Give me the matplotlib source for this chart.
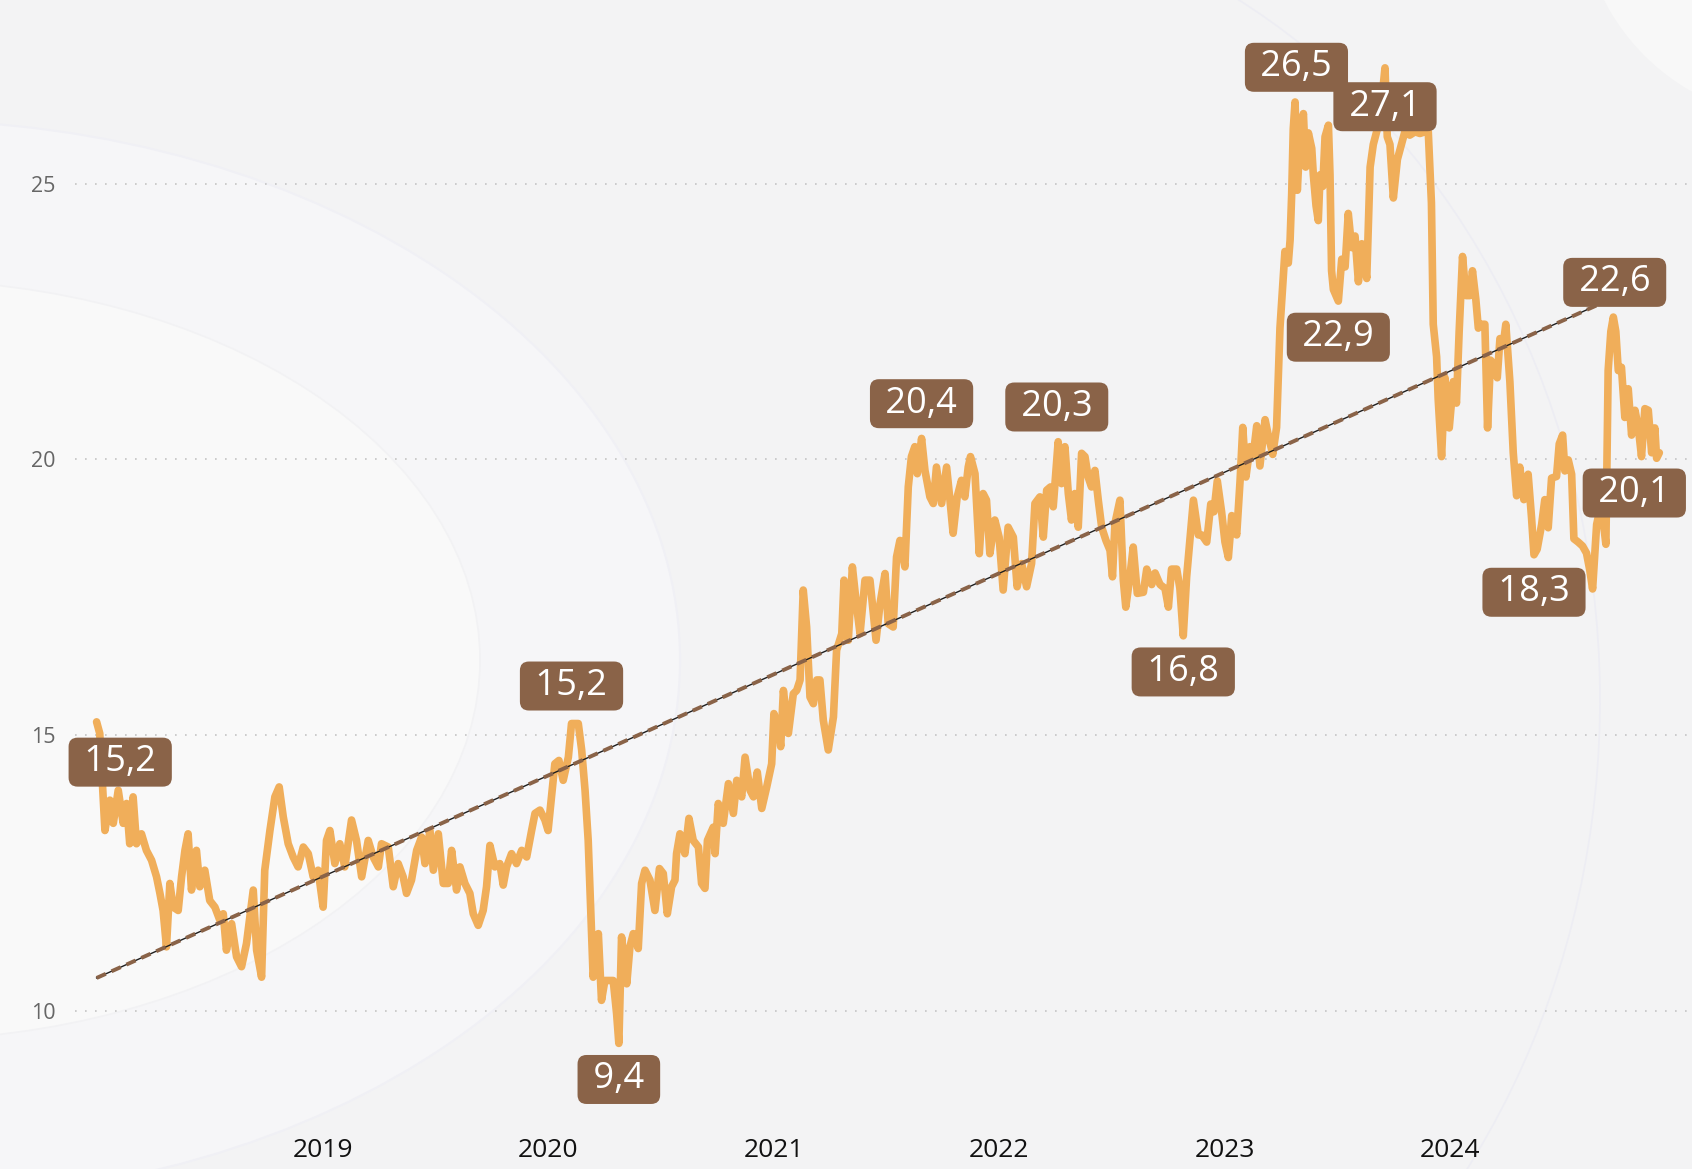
import matplotlib
matplotlib.use('Agg')
import matplotlib.pyplot as plt
from matplotlib.patches import Ellipse, Arc
import numpy as np

# decimal year / value pairs
years = [
    2017.996, 2018.010, 2018.033, 2018.055, 2018.070, 2018.092, 2018.114, 2018.129, 2018.143, 2018.158,
    2018.173, 2018.195, 2018.217, 2018.240, 2018.262, 2018.277, 2018.291, 2018.306, 2018.321, 2018.336,
    2018.358, 2018.373, 2018.388, 2018.402, 2018.417, 2018.439, 2018.454, 2018.476, 2018.498, 2018.521,
    2018.543, 2018.558, 2018.572, 2018.595, 2018.617, 2018.639, 2018.661, 2018.691, 2018.706, 2018.728,
    2018.742, 2018.765, 2018.787, 2018.806, 2018.824, 2018.846, 2018.868, 2018.890, 2018.913, 2018.935,
    2018.957, 2018.979, 2019.001, 2019.016, 2019.031, 2019.053, 2019.075, 2019.097, 2019.127, 2019.149,
    2019.172, 2019.201, 2019.223, 2019.246, 2019.260, 2019.290, 2019.312, 2019.334, 2019.356, 2019.371,
    2019.393, 2019.416, 2019.438, 2019.453, 2019.475, 2019.490, 2019.512, 2019.534, 2019.556, 2019.571,
    2019.593, 2019.608, 2019.630, 2019.652, 2019.667, 2019.689, 2019.711, 2019.726, 2019.741, 2019.763,
    2019.785, 2019.800, 2019.815, 2019.837, 2019.859, 2019.882, 2019.904, 2019.926, 2019.941, 2019.963,
    2019.985, 2019.999, 2020.014, 2020.029, 2020.047, 2020.066, 2020.089, 2020.103, 2020.133, 2020.148,
    2020.163, 2020.177, 2020.199, 2020.222, 2020.236, 2020.251, 2020.266, 2020.288, 2020.303, 2020.313,
    2020.325, 2020.348, 2020.362, 2020.377, 2020.399, 2020.414, 2020.429, 2020.451, 2020.473, 2020.493,
    2020.510, 2020.528, 2020.547, 2020.562, 2020.569, 2020.584, 2020.606, 2020.624, 2020.643, 2020.666,
    2020.680, 2020.695, 2020.706, 2020.732, 2020.740, 2020.754, 2020.776, 2020.799, 2020.821, 2020.836,
    2020.858, 2020.873, 2020.895, 2020.910, 2020.927, 2020.947, 2020.969, 2020.991, 2021.001, 2021.021,
    2021.031, 2021.043, 2021.065, 2021.087, 2021.102, 2021.117, 2021.131, 2021.146, 2021.161, 2021.176,
    2021.191, 2021.205, 2021.220, 2021.242, 2021.265, 2021.279, 2021.302, 2021.312, 2021.331, 2021.349,
    2021.368, 2021.383, 2021.405, 2021.427, 2021.454, 2021.472, 2021.494, 2021.508, 2021.530, 2021.545,
    2021.560, 2021.582, 2021.597, 2021.611, 2021.626, 2021.637, 2021.656, 2021.671, 2021.693, 2021.708,
    2021.722, 2021.745, 2021.767, 2021.782, 2021.796, 2021.814, 2021.833, 2021.848, 2021.863, 2021.873,
    2021.893, 2021.912, 2021.929, 2021.944, 2021.959, 2021.981, 2022.000, 2022.018, 2022.040, 2022.063,
    2022.080, 2022.100, 2022.122, 2022.144, 2022.159, 2022.181, 2022.196, 2022.211, 2022.228, 2022.240,
    2022.262, 2022.277, 2022.292, 2022.307, 2022.321, 2022.336, 2022.351, 2022.366, 2022.381, 2022.395,
    2022.410, 2022.425, 2022.440, 2022.455, 2022.474, 2022.492, 2022.503, 2022.514, 2022.536, 2022.551,
    2022.562, 2022.580, 2022.595, 2022.613, 2022.640, 2022.655, 2022.677, 2022.692, 2022.714, 2022.736,
    2022.751, 2022.765, 2022.788, 2022.802, 2022.817, 2022.832, 2022.847, 2022.862, 2022.884, 2022.899,
    2022.921, 2022.939, 2022.953, 2022.968, 2022.987, 2023.002, 2023.017, 2023.032, 2023.054, 2023.069,
    2023.081, 2023.095, 2023.113, 2023.128, 2023.143, 2023.157, 2023.180, 2023.194, 2023.214, 2023.231,
    2023.246, 2023.258, 2023.268, 2023.283, 2023.291, 2023.298, 2023.305, 2023.313, 2023.323, 2023.335,
    2023.350, 2023.360, 2023.372, 2023.387, 2023.394, 2023.406, 2023.416, 2023.424, 2023.436, 2023.446,
    2023.461, 2023.468, 2023.475, 2023.483, 2023.505, 2023.520, 2023.535, 2023.549, 2023.564, 2023.579,
    2023.594, 2023.609, 2023.631, 2023.646, 2023.660, 2023.678, 2023.697, 2023.712, 2023.722, 2023.734,
    2023.749, 2023.767, 2023.800, 2023.822, 2023.845, 2023.867, 2023.889, 2023.904, 2023.918, 2023.926,
    2023.941, 2023.948, 2023.963, 2023.978, 2023.997, 2024.015, 2024.029, 2024.041, 2024.056, 2024.071,
    2024.089, 2024.100, 2024.115, 2024.126, 2024.140, 2024.155, 2024.167, 2024.180, 2024.195, 2024.210,
    2024.222, 2024.236, 2024.248, 2024.266, 2024.281, 2024.296, 2024.310, 2024.328, 2024.347, 2024.362,
    2024.373, 2024.387, 2024.407, 2024.421, 2024.436, 2024.451, 2024.473, 2024.485, 2024.500, 2024.510,
    2024.525, 2024.540, 2024.550, 2024.569, 2024.588, 2024.606, 2024.621, 2024.633, 2024.651, 2024.665,
    2024.680, 2024.692, 2024.702, 2024.714, 2024.725, 2024.736, 2024.747, 2024.761, 2024.776, 2024.791,
    2024.806, 2024.821, 2024.836, 2024.850, 2024.865, 2024.880, 2024.895, 2024.909, 2024.917, 2024.929,
]
values = [
    15.24, 15.03, 13.27, 13.82, 13.40, 14.00, 13.40, 13.76, 13.03, 13.88,
    13.03, 13.21, 12.91, 12.73, 12.43, 12.13, 11.82, 11.16, 12.31, 11.88,
    11.82, 12.43, 12.91, 13.21, 12.19, 12.91, 12.25, 12.55, 12.00, 11.88,
    11.64, 11.76, 11.10, 11.58, 10.98, 10.80, 11.22, 12.19, 11.10, 10.61,
    12.55, 13.27, 13.88, 14.06, 13.52, 13.03, 12.79, 12.61, 12.97, 12.85,
    12.43, 12.55, 11.88, 13.09, 13.27, 12.67, 13.03, 12.61, 13.46, 13.09,
    12.43, 13.09, 12.79, 12.61, 13.03, 12.97, 12.25, 12.67, 12.43, 12.13,
    12.37, 12.91, 13.15, 12.67, 13.27, 12.55, 13.21, 12.31, 12.31, 12.91,
    12.19, 12.61, 12.31, 12.13, 11.76, 11.55, 11.82, 12.25, 13.00, 12.61,
    12.67, 12.28, 12.61, 12.85, 12.67, 12.91, 12.79, 13.27, 13.58, 13.64,
    13.46, 13.27, 13.88, 14.48, 14.54, 14.18, 14.60, 15.21, 15.21, 14.73,
    14.00, 13.09, 10.61, 11.40, 10.19, 10.55, 10.55, 10.55, 9.95, 9.41,
    11.34, 10.49, 11.16, 11.40, 11.13, 12.31, 12.55, 12.37, 11.82, 12.58,
    12.49, 11.76, 12.25, 12.37, 12.85, 13.21, 12.85, 13.49, 13.09, 12.97,
    12.31, 12.22, 13.09, 13.33, 12.85, 13.76, 13.40, 14.12, 13.58, 14.18,
    13.88, 14.60, 14.00, 13.88, 14.33, 13.67, 14.06, 14.48, 15.39, 15.15,
    14.79, 15.81, 15.03, 15.75, 15.81, 16.00, 17.63, 16.96, 15.69, 15.57,
    16.00, 16.00, 15.27, 14.73, 15.33, 16.54, 16.84, 17.81, 16.72, 18.05,
    17.33, 16.84, 17.81, 17.81, 16.72, 17.39, 17.93, 17.02, 16.96, 18.23,
    18.53, 18.05, 19.50, 20.05, 20.23, 19.74, 20.38, 19.80, 19.32, 19.20,
    19.86, 19.20, 19.86, 19.26, 18.66, 19.32, 19.62, 19.32, 19.86, 20.05,
    19.74, 18.29, 19.38, 19.26, 18.29, 18.90, 18.59, 17.63, 18.77, 18.59,
    17.69, 18.11, 17.69, 18.11, 19.20, 19.32, 18.59, 19.44, 19.50, 19.14,
    20.32, 19.56, 20.23, 19.38, 18.90, 19.38, 18.77, 20.11, 20.05, 19.68,
    19.50, 19.80, 19.26, 18.77, 18.53, 18.35, 17.87, 18.84, 19.26, 17.81,
    17.32, 17.87, 18.41, 17.57, 17.59, 18.01, 17.73, 17.94, 17.73, 17.66,
    17.32, 18.01, 18.01, 17.66, 16.80, 17.87, 18.57, 19.26, 18.63, 18.63,
    18.50, 19.19, 19.05, 19.61, 19.05, 18.50, 18.22, 18.98, 18.63, 19.61,
    20.58, 19.68, 20.23, 20.09, 20.61, 19.88, 20.72, 20.44, 20.09, 20.58,
    22.38, 23.15, 23.77, 23.56, 23.98, 24.81, 25.99, 26.48, 24.88, 25.85,
    26.27, 25.30, 25.92, 25.64, 25.16, 24.60, 24.33, 25.16, 24.95, 25.85,
    26.06, 25.16, 23.42, 23.08, 22.87, 23.63, 23.49, 24.46, 23.84, 24.05,
    23.22, 23.91, 23.28, 25.30, 25.71, 25.99, 26.48, 27.10, 25.85, 25.71,
    24.74, 25.44, 25.94, 25.88, 25.94, 25.91, 25.94, 25.94, 24.65, 22.45,
    21.86, 21.09, 20.05, 21.48, 20.57, 21.41, 21.02, 22.32, 23.68, 22.97,
    22.97, 23.42, 22.90, 22.38, 22.45, 22.45, 20.57, 21.80, 21.73, 21.48,
    22.19, 22.06, 22.45, 21.41, 20.12, 19.34, 19.86, 19.27, 19.73, 18.95,
    18.27, 18.37, 18.82, 19.27, 18.76, 19.66, 19.69, 20.28, 20.44, 19.79,
    19.99, 19.73, 18.56, 18.50, 18.43, 18.30, 17.98, 17.65, 18.82, 19.08,
    18.88, 18.46, 21.61, 22.32, 22.58, 22.32, 21.61, 21.67, 20.76, 21.28,
    20.44, 20.89, 20.57, 20.05, 20.92, 20.89, 20.12, 20.57, 20.02, 20.12,
]

# highlighted points and where their label sits (offset in points)
label_years = [2017.996, 2020.103, 2020.313, 2021.656, 2022.262, 2022.817,
               2023.313, 2023.712, 2023.505, 2024.725, 2024.373, 2024.929]
label_offsets = [(17, -29), (0, 27), (0, -26), (0, 25), (-1, 25), (0, -26),
                 (1, 25), (0, -28), (0, -26), (1, 25), (0, -27), (-18, -29)]
year_ticks = [2019, 2020, 2021, 2022, 2023, 2024]
value_ticks = [10, 15, 20, 25]

LINE = '#F0AE5A'
BROWN = '#8A6348'

fig = plt.figure(figsize=(16.92, 11.69), dpi=100)
fig.patch.set_facecolor('#F3F3F4')

# soft background circles on their own axes, behind the chart
bg = fig.add_axes([0, 0, 1, 1], zorder=0)
bg.set_xlim(0, 1692)
bg.set_ylim(1169, 0)
bg.axis('off')
bg.add_patch(Ellipse((-100, 660), 1560, 1080, fc='#F6F6F8', ec='#F0F0F5', lw=1.5))
bg.add_patch(Ellipse((-100, 660), 1160, 760, fc='#F9F9F9', ec='#F2F2F4', lw=1.2))
bg.add_patch(Arc((900, 700), 1400, 1600, theta1=-70, theta2=55, ec='#EDEDF3', lw=1.2))
bg.add_patch(Ellipse((1800, -100), 440, 440, fc='#F8F8F8', ec='none'))

ax = fig.add_axes([0.0443, 0.0419, 0.9557, 0.9581], zorder=1)
ax.set_facecolor('none')
ax.set_xlim(2017.900, 2025.074)
ax.set_ylim(8.02, 28.33)

for v in value_ticks:
    ax.axhline(v, color='#C4C4C4', lw=1.2, ls=(0, (1, 5)), zorder=1)

ax.plot(years, values, color=LINE, lw=5.5, solid_joinstyle='round',
        solid_capstyle='round', zorder=3)

# linear trend
coef = np.polyfit(years, values, 1)
tx = np.array([years[0], years[-1]])
ty = np.polyval(coef, tx)
ax.plot(tx, ty, color='#1E1E1E', lw=1.0, zorder=4)
ax.plot(tx, ty, color=BROWN, lw=2.8, ls=(0, (2.6, 1.6)), zorder=5)

for ly, (dx, dy) in zip(label_years, label_offsets):
    i = int(np.argmin(np.abs(np.array(years) - ly)))
    txt = f' {values[i]:.1f} '.replace('.', ',')
    ax.annotate(txt, xy=(years[i], values[i]), xytext=(dx, dy),
                textcoords='offset points', ha='center', va='center',
                color='white', fontsize=26, family='Open Sans', zorder=6,
                bbox=dict(boxstyle='round,pad=0.18,rounding_size=0.25',
                          fc=BROWN, ec='none'))

ax.set_xticks(year_ticks)
ax.set_xticklabels([str(y) for y in year_ticks], fontsize=19,
                   family='Open Sans', color='#111111')
ax.set_yticks(value_ticks)
ax.set_yticklabels([str(v) for v in value_ticks], fontsize=15.5,
                   family='Open Sans', color='#666666')
ax.tick_params(axis='x', length=0, pad=13)
ax.tick_params(axis='y', length=0, pad=14)
for s in ax.spines.values():
    s.set_visible(False)

fig.savefig('out.png', dpi=100, facecolor=fig.get_facecolor())
